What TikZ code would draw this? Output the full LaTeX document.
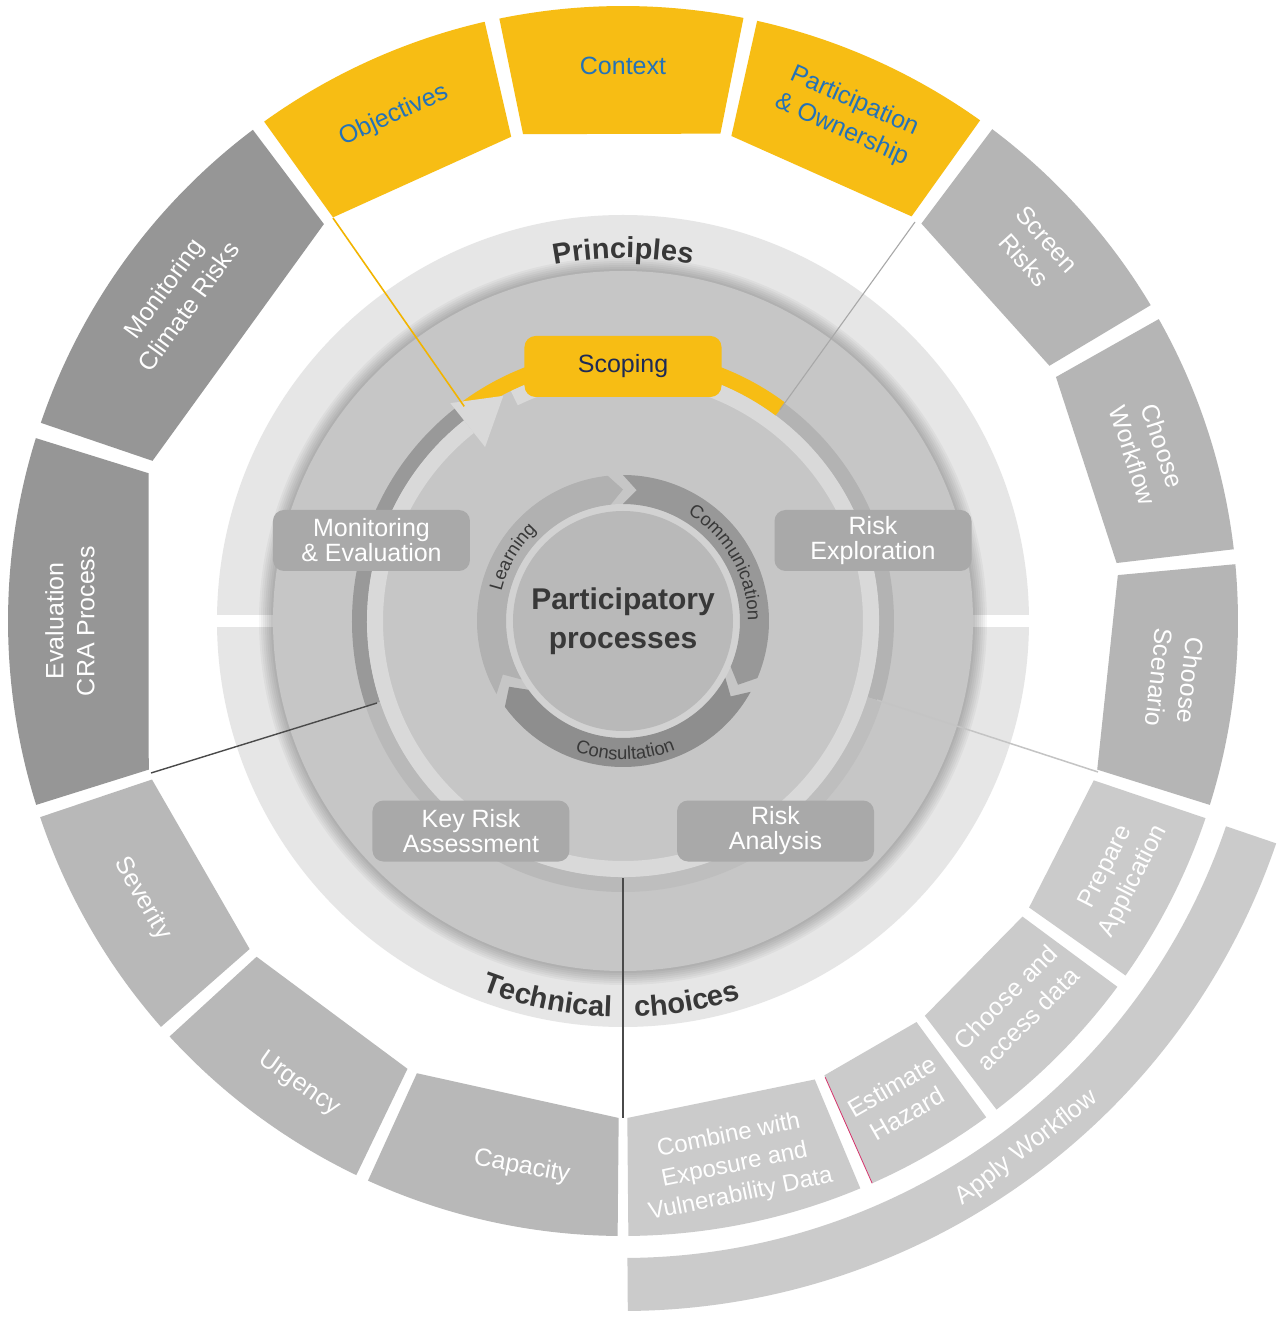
\documentclass[tikz,border=0pt]{standalone}
\usepackage{fontspec}
\setmainfont{Liberation Sans}
\usetikzlibrary{decorations.text}
\definecolor{yel}{HTML}{F7BD14}
\definecolor{blu}{HTML}{2472B8}
\definecolor{segdark}{HTML}{969696}
\definecolor{segmid}{HTML}{B5B5B5}
\definecolor{segmidb}{HTML}{B8B8B8}
\definecolor{seglight}{HTML}{CBCBCB}
\definecolor{ringlt}{HTML}{E6E6E6}
\definecolor{disc}{HTML}{C6C6C6}
\definecolor{boxg}{HTML}{A9A9A9}
\definecolor{navy}{HTML}{1E2A55}
\definecolor{txtd}{HTML}{383838}
\definecolor{ringA}{HTML}{999999}
\definecolor{ringB}{HTML}{B3B3B3}
\definecolor{ringC}{HTML}{BEBEBE}
\definecolor{ringD}{HTML}{B9B9B9}
\definecolor{ringL}{HTML}{D9D9D9}
\definecolor{cLearn}{HTML}{B1B1B1}
\definecolor{cComm}{HTML}{989898}
\definecolor{cCons}{HTML}{8E8E8E}
\definecolor{cRing}{HTML}{D2D2D2}
\definecolor{cInner}{HTML}{B9B9B9}
\definecolor{lineY}{HTML}{F2B400}
\definecolor{lineG}{HTML}{A8A8A8}
\definecolor{lineL}{HTML}{C4C4C4}
\definecolor{lineD}{HTML}{4A4A4A}
\definecolor{linePk}{HTML}{D6336C}
% annular sector with straight (chord) inner edge: start, end, inner r, outer r, colour
\newcommand\chsec[5]{\fill[#5] (#1:#4) arc[start angle=#1,end angle=#2,radius=#4] -- (#2:#3) -- (#1:#3) -- cycle;}
% annular sector with arc edges
\newcommand\annsec[5]{\fill[#5] (#1:#4) arc[start angle=#1,end angle=#2,radius=#4] -- (#2:#3) arc[start angle=#2,end angle=#1,radius=#3] -- cycle;}
% chevron arc arrow (clockwise): tail angle, head-back angle, colour
\newcommand\chevarc[3]{\fill[#3] (#1:146) arc[start angle=#1,end angle=#2,radius=146] -- ({#2-6}:131.5) -- (#2:117) arc[start angle=#2,end angle=#1,radius=117] -- ({#1-6}:131.5) -- cycle;}
\begin{document}
\begin{tikzpicture}[x=1pt,y=1pt,
  seglab/.style={align=center, inner sep=0pt, font=\fontsize{25}{31}\selectfont},
  wlab/.style={seglab, text=white},
  blab/.style={seglab, text=blu},
  phasebox/.style={fill=boxg, rounded corners=11pt, minimum width=197pt, minimum height=61pt, align=center, inner sep=0pt, text=white, font=\fontsize{25}{25}\selectfont},
  curvetxt/.style={decorate, decoration={text along path, text color=txtd, text align=center, text={#1}}}
]
\useasboundingbox (-623,-698) rectangle (656,621);
\fill[white] (-623,-698) rectangle (656,621);

% ---- outer ring segments ----
\chsec{161.2}{127}{497}{615}{segdark}
\chsec{197.4}{162.7}{497}{615}{segdark}
\chsec{125.7}{103}{497}{615}{yel}
\chsec{101.6}{78.7}{497}{615}{yel}
\chsec{77.4}{54.5}{497}{615}{yel}
\chsec{53.1}{30.9}{497}{615}{segmid}
\chsec{29.4}{6.7}{497}{615}{segmid}
\chsec{5.3}{-17.4}{497}{615}{segmid}
\chsec{-18.7}{-35.2}{497}{615}{seglight}
\chsec{-36.5}{-52.6}{497}{615}{seglight}
\chsec{-53.8}{-66.1}{497}{615}{seglight}
\chsec{-67.3}{-89.5}{497}{615}{seglight}
\chsec{-90.5}{-114.5}{497}{615}{segmidb}
\chsec{-115.7}{-137.5}{497}{615}{segmidb}
\chsec{-138.7}{-161.4}{497}{615}{segmidb}
\annsec{-18.8}{-89.6}{637}{690}{seglight}
\coordinate (pk1) at (-66.1:499);
\coordinate (pk2) at (-66.1:615);
\draw[linePk, line width=0.8pt] (pk1) -- (pk2);

% ---- principles / technical choices ring ----
\fill[ringlt] (0,0) circle[radius=406];
\fill[white] (-410,-6) rectangle (410,6);
\foreach \k in {14,12,...,2} {\fill[black,opacity=0.035] (0,0) circle[radius=350+\k];}
\fill[disc] (0,0) circle[radius=350];

% ---- process ring ----
\annsec{53.4}{-17.3}{256}{271}{ringB}
\annsec{-17.3}{-90}{256}{271}{ringC}
\annsec{-90}{-161.6}{256}{271}{ringD}
\annsec{-161.6}{-233.5}{256}{271}{ringA}
\annsec{116}{-231.6}{240}{256}{ringL}
\annsec{126.5}{53.4}{256}{272}{yel}
\fill[ringL] (-231.6:222) -- (-242:255) -- (-231.6:278) -- cycle;

% ---- connectors ----
\coordinate (y1) at (126.5:267);
\coordinate (y2) at (-290,403);
\coordinate (g1) at (53.4:263);
\coordinate (g2) at (292,399);
\coordinate (r1) at (254,-79);
\coordinate (r2) at (475,-151);
\coordinate (b1) at (0,-257);
\coordinate (b2) at (0,-497);
\coordinate (l1) at (-246,-82);
\coordinate (l2) at (-472,-152);
\draw[lineY, line width=1.6pt] (y1) -- (y2);
\draw[lineG, line width=1.1pt] (g1) -- (g2);
\draw[lineL, line width=1.5pt] (r1) -- (r2);
\draw[lineD, line width=1.3pt] (b1) -- (b2);
\draw[lineD, line width=1.4pt] (l1) -- (l2);

% ---- phase boxes ----
\node[phasebox, fill=yel, text=navy] (scope) at (0,254.5) {Scoping};
\node[phasebox] (riskexp) at (250,80.5) {Risk\\Exploration};
\node[phasebox] (riskana) at (152.5,-210) {Risk\\Analysis};
\node[phasebox] (keyrisk) at (-152,-210) {Key Risk\\Assessment};
\node[phasebox] (moneval) at (-251.5,80.5) {Monitoring\\\& Evaluation};

% ---- participatory cycle ----
\fill[cRing] (0,0) circle[radius=117];
\chevarc{210}{96}{cLearn}
\chevarc{90}{-23}{cComm}
\chevarc{-29}{-144}{cCons}
\fill[cInner] (0,0) circle[radius=110];
\node[font=\bfseries\fontsize{30}{39}\selectfont, text=txtd, align=center, inner sep=0pt] (pp) at (0,0) {Participatory\\processes};

% ---- curved texts ----
\path[curvetxt={|\fontsize{18.5}{18.5}\selectfont|Learning}] (185:125) arc[start angle=185,end angle=115,radius=125];
\path[curvetxt={|\fontsize{18.5}{18.5}\selectfont|Communication}] (75:125) arc[start angle=75,end angle=-16,radius=125];
\path[curvetxt={|\fontsize{18.5}{18.5}\selectfont|Consultation}] (-124:139) arc[start angle=-124,end angle=-54,radius=139];
\path[curvetxt={|\bfseries\fontsize{29}{29}\selectfont|Principles}] (112:363) arc[start angle=112,end angle=68,radius=363];
\path[decorate, decoration={text along path, text color=txtd, text align=left, text={|\bfseries\fontsize{29}{29}\selectfont|Technical}}] (-111:396) arc[start angle=-111,end angle=-85,radius=396];
\path[decorate, decoration={text along path, text color=txtd, text align=left, text={|\bfseries\fontsize{29}{29}\selectfont|choices}}] (-88.3:396) arc[start angle=-88.3,end angle=-58,radius=396];

% ---- outer labels ----
\node[wlab, rotate=54.1] (tMon) at (144.1:552) {Monitoring\\Climate Risks};
\node[wlab, rotate=90] (tEva) at (180:553) {Evaluation\\CRA Process};
\node[blab, rotate=24.4] (tObj) at (114.4:555) {Objectives};
\node[blab] (tCon) at (90:555) {Context};
\node[blab, rotate=-24] (tPar) at (66:553) {Participation\\\& Ownership};
\node[wlab, rotate=-48] (tScr) at (42:555) {Screen\\Risks};
\node[wlab, rotate=-72] (tCW) at (18:552) {Choose\\Workflow};
\node[wlab, rotate=-96] (tCS) at (-6:555) {Choose\\Scenario};
\node[wlab, rotate=63] (tPrep) at (-27:558) {Prepare\\Application};
\node[wlab, rotate=45.5] (tAcc) at (-44.5:552) {Choose and\\access data};
\node[wlab, rotate=30] (tEst) at (-60:553) {Estimate\\Hazard};
\node[wlab, rotate=11.6, font=\fontsize{24}{30}\selectfont] (tComb) at (-78.4:556) {Combine with\\Exposure and\\Vulnerability Data};
\node[wlab, rotate=-10.5] (tCap) at (-100.5:555) {Capacity};
\node[wlab, rotate=-35] (tUrg) at (-125:565) {Urgency};
\node[wlab, rotate=-60] (tSev) at (-150:555) {Severity};
\node[wlab, rotate=37.5] (tApp) at (-52.5:664) {Apply Workflow};
\end{tikzpicture}
\end{document}
